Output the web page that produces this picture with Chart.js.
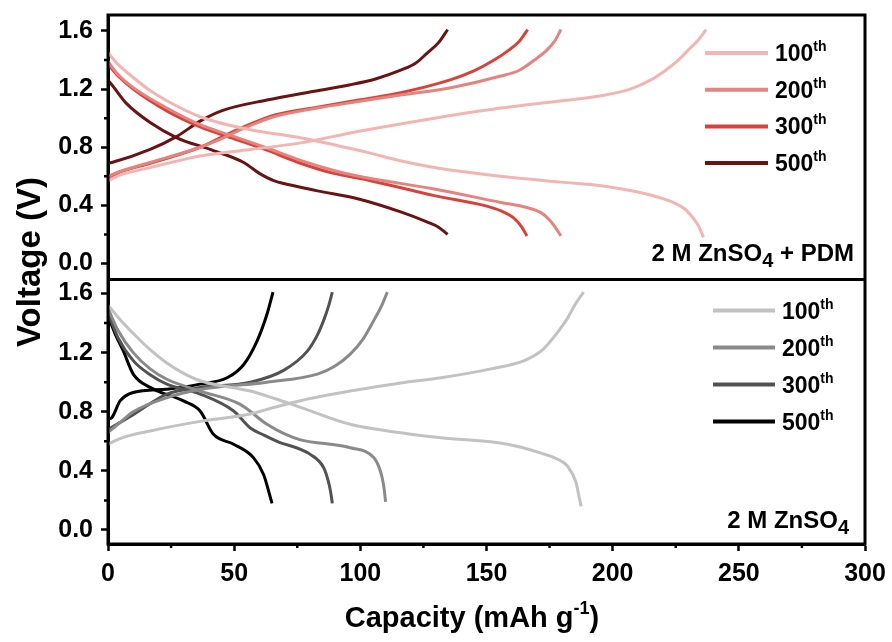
<!DOCTYPE html>
<html>
<head>
<meta charset="utf-8">
<title>GCD profiles</title>
<script src="https://cdn.jsdelivr.net/npm/chart.js@4.4.0/dist/chart.umd.min.js"></script>
<style>
    html, body { margin: 0; padding: 0; background: #fff; }
    #chart_wrap { width: 892px; height: 642px; }
</style>
</head>
<body>
<div id="chart_wrap"><canvas id="gcd_chart" width="892" height="642"></canvas></div>
<script>
// ---------------- DATA -----------------
// [capacity mAh/g, voltage V]
const capacityTicks = [0, 50, 100, 150, 200, 250, 300];
const capacityMinor = [25, 75, 125, 175, 225, 275];
const voltageTicks = [0, 0.4, 0.8, 1.2, 1.6];
const voltageMinor = [0.2, 0.6, 1.0, 1.4];
const cycleLabels = ["100", "200", "300", "500"];

// 2 M ZnSO4 + PDM (top)
const pdm100Charge = [[0,0.57],[5,0.61],[16.7,0.66],[36.5,0.74],[56.4,0.785],[76.3,0.83],[89.5,0.875],[102.8,0.92],[129.3,1.0],[155.7,1.07],[180,1.12],[195.5,1.155],[207,1.2],[215.3,1.265],[221,1.33],[226,1.4],[230,1.47],[234,1.54],[237,1.61]];
const pdm100Discharge = [[0,1.45],[4,1.37],[10,1.28],[16.7,1.19],[23.3,1.12],[36.5,1.01],[56.4,0.92],[76.3,0.865],[90,0.815],[102.8,0.765],[115,0.71],[129.3,0.66],[155.7,0.6],[179.6,0.56],[195.5,0.535],[215.3,0.47],[224,0.42],[228.6,0.375],[232,0.31],[234,0.26],[236,0.18]];
const pdm200Charge = [[0,0.6],[5,0.635],[16.7,0.695],[36.5,0.8],[45,0.86],[52.4,0.92],[60,0.975],[65.7,1.01],[83,1.07],[99.3,1.115],[116,1.16],[135.9,1.21],[155.7,1.29],[163,1.33],[169,1.4],[174,1.47],[177,1.53],[179.5,1.61]];
const pdm200Discharge = [[0,1.39],[4,1.3],[10,1.21],[23.3,1.07],[36.5,0.955],[49.8,0.875],[63,0.795],[76.3,0.71],[89.5,0.64],[99.3,0.6],[129.3,0.513],[155.7,0.42],[166,0.385],[171.6,0.35],[175,0.3],[176.8,0.26],[179.5,0.19]];
const pdm300Charge = [[0,0.59],[5,0.63],[16.7,0.69],[36.5,0.8],[45,0.87],[52.4,0.93],[60,0.985],[65.7,1.02],[83,1.075],[99.3,1.125],[116,1.175],[135.9,1.265],[145,1.325],[153,1.4],[159,1.47],[163,1.53],[166.3,1.61]];
const pdm300Discharge = [[0,1.37],[4,1.29],[10,1.2],[23.3,1.05],[36.5,0.94],[49.8,0.86],[63,0.78],[76.3,0.69],[89.5,0.62],[102.8,0.575],[129.3,0.467],[149,0.4],[156,0.36],[161,0.31],[164,0.25],[166,0.19]];
const pdm500Charge = [[0,0.69],[1.5,0.695],[16.7,0.785],[27.3,0.875],[36.5,0.98],[45.8,1.055],[63,1.125],[80,1.18],[96,1.23],[106,1.27],[116,1.33],[122,1.38],[126.6,1.45],[131,1.52],[134.6,1.61]];
const pdm500Discharge = [[0,1.26],[1.5,1.23],[7.4,1.1],[16.7,0.97],[27.3,0.865],[40.5,0.785],[53.8,0.695],[60,0.62],[65.7,0.57],[76.3,0.525],[83,0.5],[99.3,0.444],[116,0.355],[126.6,0.285],[131,0.25],[134.6,0.2]];

// 2 M ZnSO4 (bottom)
const zn100Charge = [[0,0.58],[5,0.62],[16.7,0.67],[36.5,0.735],[56.4,0.785],[66,0.83],[76.3,0.875],[96,0.94],[116,0.995],[132,1.03],[151.8,1.09],[165,1.146],[171.6,1.21],[175,1.27],[178.3,1.34],[182,1.43],[184.9,1.52],[188.5,1.61]];
const zn100Discharge = [[0,1.52],[3,1.46],[6,1.4],[10,1.33],[16.7,1.22],[23.3,1.13],[30,1.06],[36.5,1.01],[56.4,0.94],[66,0.89],[76.3,0.83],[96,0.715],[116,0.658],[132,0.624],[158.4,0.58],[171.6,0.52],[178,0.48],[182.2,0.43],[185.5,0.32],[186.5,0.24],[187.5,0.16]];
const zn200Charge = [[0,0.66],[5,0.73],[10,0.8],[23.3,0.895],[36.5,0.95],[63,1.0],[83,1.055],[90,1.11],[96,1.19],[101,1.29],[105.4,1.42],[108.5,1.52],[110.7,1.61]];
const zn200Discharge = [[0,1.5],[4,1.35],[10,1.2],[16.7,1.09],[23.3,1.02],[36.5,0.94],[52.4,0.85],[63,0.715],[70,0.65],[76.3,0.61],[96,0.556],[105.4,0.488],[107.5,0.42],[108.7,0.35],[109.5,0.27],[110,0.19]];
const zn300Charge = [[0,0.68],[5,0.73],[10,0.78],[23.3,0.92],[36.5,0.965],[56.4,1.0],[69.6,1.08],[79,1.21],[83,1.32],[85.5,1.42],[87.5,1.52],[88.9,1.61]];
const zn300Discharge = [[0,1.47],[4,1.3],[10,1.146],[16.7,1.05],[23.3,0.987],[36.5,0.92],[49.8,0.805],[56.4,0.69],[62,0.64],[67,0.6],[80.3,0.51],[85.5,0.42],[87.3,0.33],[88.2,0.26],[88.9,0.18]];
const zn500Charge = [[0,0.75],[1.5,0.76],[4.8,0.873],[10,0.93],[23.3,0.953],[36.5,0.987],[47.2,1.03],[53.8,1.12],[59.1,1.28],[63,1.46],[65.4,1.61]];
const zn500Discharge = [[0,1.45],[3,1.32],[6.1,1.21],[10,1.055],[16.7,0.965],[29.9,0.873],[36.5,0.805],[41.8,0.647],[49.8,0.58],[57.7,0.488],[61.7,0.374],[63.7,0.26],[65,0.18]];

// ---------------- STYLE -----------------
const pdmColors = ["#f3b5b1", "#e5837e", "#d8423b", "#6b1313"];
const znColors = ["#c2c2c2", "#8a8a8a", "#525252", "#000000"];
const FONT = "'Liberation Sans', Arial, sans-serif";

// ---------------- HELPERS -----------------
const toPoints = (pairs) => pairs.map(([x, y]) => ({ x, y }));

const curve = (pairs, color, axis) => ({
    data: toPoints(pairs),
    borderColor: color,
    borderWidth: 3,
    pointRadius: 0,
    fill: false,
    tension: 0.4,
    cubicInterpolationMode: "monotone",
    yAxisID: axis,
});

// draws a run of text pieces [{t, size, dy}]
const drawRich = (ctx, parts, x, baseline, align) => {
    let total = 0;
    parts.forEach((p) => {
        ctx.font = `bold ${p.size}px ${FONT}`;
        p.w = ctx.measureText(p.t).width;
        total += p.w;
    });
    let cx = align === "right" ? x - total : align === "center" ? x - total / 2 : x;
    ctx.textAlign = "left";
    ctx.textBaseline = "alphabetic";
    parts.forEach((p) => {
        ctx.font = `bold ${p.size}px ${FONT}`;
        ctx.fillText(p.t, cx, baseline + (p.dy || 0));
        cx += p.w;
    });
};

const drawLegend = (ctx, colors, x0, x1, y0, gap) => {
    colors.forEach((c, i) => {
        const y = y0 + i * gap;
        ctx.strokeStyle = c;
        ctx.lineWidth = 4;
        ctx.beginPath();
        ctx.moveTo(x0, y);
        ctx.lineTo(x1, y);
        ctx.stroke();
        ctx.fillStyle = "#000";
        drawRich(ctx, [
            { t: cycleLabels[i], size: 23 },
            { t: "th", size: 14, dy: -10 },
        ], x1 + 7, y + 8, "left");
    });
};

// ---------------- PLUGIN -----------------
const framePlugin = {
    id: "frame",
    afterDraw: (chart) => {
        const ctx = chart.ctx;
        const { left, right, top, bottom } = chart.chartArea;
        const xs = chart.scales.x;
        const yT = chart.scales.yTop;
        const yB = chart.scales.yBot;
        ctx.save();

        // frame + panel divider
        ctx.strokeStyle = "#000";
        ctx.lineWidth = 3;
        ctx.beginPath();
        ctx.rect(left, top, right - left, bottom - top);
        ctx.moveTo(left, yT.bottom);
        ctx.lineTo(right, yT.bottom);
        ctx.stroke();

        // minor ticks
        ctx.lineWidth = 2.5;
        ctx.beginPath();
        voltageMinor.forEach((v) => {
            [yT, yB].forEach((s) => {
                const py = s.getPixelForValue(v);
                ctx.moveTo(left - 4, py);
                ctx.lineTo(left, py);
            });
        });
        capacityMinor.forEach((c) => {
            const px = xs.getPixelForValue(c);
            ctx.moveTo(px, bottom);
            ctx.lineTo(px, bottom + 4);
        });
        ctx.stroke();

        // legends
        drawLegend(ctx, pdmColors, right - 160, right - 97, top + 38, 36.7);
        drawLegend(ctx, znColors, right - 152, right - 90, yB.top + 31, 37);

        // panel labels
        ctx.fillStyle = "#000";
        drawRich(ctx, [
            { t: "2 M ZnSO", size: 24 },
            { t: "4", size: 20, dy: 6 },
            { t: " + PDM", size: 24 },
        ], right - 11, yT.bottom - 19, "right");
        drawRich(ctx, [
            { t: "2 M ZnSO", size: 24 },
            { t: "4", size: 20, dy: 6 },
        ], right - 16, bottom - 16, "right");

        // axis titles
        drawRich(ctx, [
            { t: "Capacity (mAh g", size: 29 },
            { t: "-1", size: 18, dy: -13 },
            { t: ")", size: 29 },
        ], 472, 627, "center");

        ctx.translate(40, 262);
        ctx.rotate(-Math.PI / 2);
        drawRich(ctx, [{ t: "Voltage (V)", size: 33 }], 0, 0, "center");

        ctx.restore();
    },
};

// ---------------- CHART -----------------
const tickFont = { family: FONT, size: 25, weight: "bold" };

const yAxis = (min, max) => ({
    type: "linear",
    position: "left",
    stack: "v",
    stackWeight: 1,
    min,
    max,
    afterBuildTicks: (s) => {
        s.ticks = voltageTicks.map((v) => ({ value: v }));
    },
    afterFit: (s) => {
        s.width = 108;
        s.paddingTop = 0;
        s.paddingBottom = 0;
    },
    ticks: {
        font: tickFont,
        color: "#000",
        padding: 8,
        callback: (v) => Number(v).toFixed(1),
    },
    grid: {
        drawOnChartArea: false,
        tickLength: 7,
        tickWidth: 2.5,
        tickColor: "#000",
    },
    border: { width: 3, color: "#000" },
});

const datasets = [
    curve(pdm100Charge, pdmColors[0], "yTop"),
    curve(pdm100Discharge, pdmColors[0], "yTop"),
    curve(pdm200Charge, pdmColors[1], "yTop"),
    curve(pdm200Discharge, pdmColors[1], "yTop"),
    curve(pdm300Charge, pdmColors[2], "yTop"),
    curve(pdm300Discharge, pdmColors[2], "yTop"),
    curve(pdm500Charge, pdmColors[3], "yTop"),
    curve(pdm500Discharge, pdmColors[3], "yTop"),
    curve(zn100Charge, znColors[0], "yBot"),
    curve(zn100Discharge, znColors[0], "yBot"),
    curve(zn200Charge, znColors[1], "yBot"),
    curve(zn200Discharge, znColors[1], "yBot"),
    curve(zn300Charge, znColors[2], "yBot"),
    curve(zn300Discharge, znColors[2], "yBot"),
    curve(zn500Charge, znColors[3], "yBot"),
    curve(zn500Discharge, znColors[3], "yBot"),
];

new Chart(document.getElementById("gcd_chart"), {
    type: "line",
    data: { datasets },
    options: {
        responsive: false,
        animation: false,
        devicePixelRatio: 1,
        layout: { padding: { left: 0, right: 27, top: 15, bottom: 0 } },
        plugins: {
            legend: { display: false },
            tooltip: { enabled: false },
        },
        scales: {
            x: {
                type: "linear",
                position: "bottom",
                min: 0,
                max: 300,
                afterBuildTicks: (s) => {
                    s.ticks = capacityTicks.map((v) => ({ value: v }));
                },
                afterFit: (s) => {
                    s.height = 98;
                    s.paddingLeft = 0;
                    s.paddingRight = 0;
                },
                ticks: { font: tickFont, color: "#000", padding: 8, maxRotation: 0 },
                grid: {
                    drawOnChartArea: false,
                    tickLength: 7,
                    tickWidth: 2.5,
                    tickColor: "#000",
                },
                border: { width: 3, color: "#000" },
            },
            yBot: yAxis(-0.095, 1.695),
            yTop: yAxis(-0.11, 1.71),
        },
    },
    plugins: [framePlugin],
});
</script>
</body>
</html>
